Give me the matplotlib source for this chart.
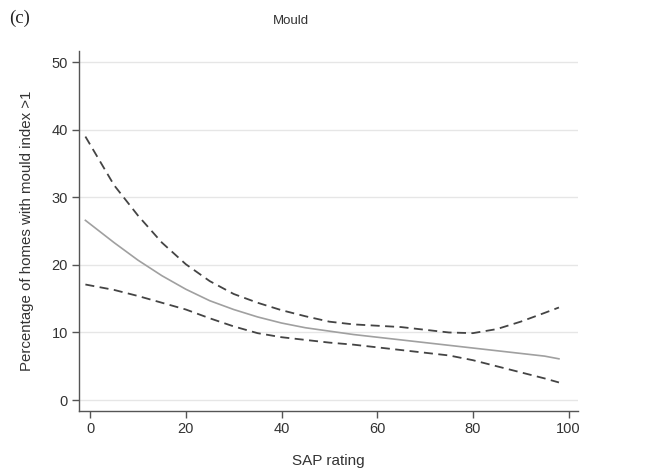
import matplotlib
matplotlib.use("Agg")
import matplotlib.pyplot as plt

# SAP rating positions
sap = [-1, 5, 10, 15, 20, 25, 30, 35, 40, 45, 50, 55, 60, 65, 70, 75, 80, 85, 90, 95, 98]

# fitted percentage and 95% band
fit = [26.6, 23.3, 20.7, 18.4, 16.4, 14.7, 13.4, 12.3, 11.4, 10.7, 10.2, 9.7, 9.3,
       8.9, 8.5, 8.1, 7.7, 7.3, 6.9, 6.5, 6.1]
upper = [39.0, 31.8, 27.3, 23.3, 20.1, 17.6, 15.7, 14.4, 13.3, 12.4, 11.6, 11.2, 11.0,
         10.8, 10.4, 10.0, 9.9, 10.5, 11.6, 12.9, 13.7]
lower = [17.1, 16.3, 15.4, 14.4, 13.4, 12.1, 10.9, 9.9, 9.3, 8.9, 8.5, 8.2, 7.8,
         7.4, 7.0, 6.6, 5.9, 5.0, 4.1, 3.2, 2.6]

xticks = [0, 20, 40, 60, 80, 100]
yticks = [0, 10, 20, 30, 40, 50]

plt.rcParams['font.family'] = ['Liberation Sans', 'DejaVu Sans']
txt = '#333333'

fig = plt.figure(figsize=(6.49, 4.72), dpi=100)
ax = fig.add_axes([0.122, 0.130, 0.768, 0.761])

for y in yticks:
    ax.axhline(y, color='#e6e6e6', lw=1.0, zorder=0)

ax.plot(sap, fit, color='#a0a0a0', lw=1.2, zorder=2)
ax.plot(sap, upper, color='#444444', lw=1.3, dashes=(5, 3), zorder=3)
ax.plot(sap, lower, color='#444444', lw=1.3, dashes=(5, 3), zorder=3)

ax.set_xlim(-2.3, 101.9)
ax.set_ylim(-1.57, 51.6)
ax.set_xticks(xticks)
ax.set_yticks(yticks)

for s in ['top', 'right']:
    ax.spines[s].set_visible(False)
for s in ['left', 'bottom']:
    ax.spines[s].set_color('#555555')
    ax.spines[s].set_linewidth(1.0)

ax.tick_params(axis='both', direction='out', length=5, width=1.0, color='#555555',
               labelsize=10.5, labelcolor=txt, pad=3)

ax.set_xlabel('SAP rating', fontsize=11, color=txt, labelpad=13)
ax.set_ylabel('Percentage of homes with mould index >1', fontsize=10.8, color=txt, labelpad=13)

fig.text(0.448, 0.955, 'Mould', ha='center', va='center', fontsize=9.5, color=txt)
fig.text(0.014, 0.962, '(c)', ha='left', va='center', fontsize=13.5, color='#222222',
         family=['Liberation Serif', 'DejaVu Serif'])

fig.savefig('out.png', dpi=100)
